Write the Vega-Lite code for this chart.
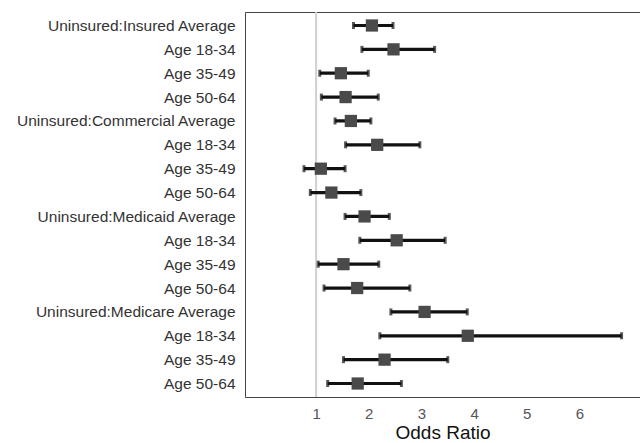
{
  "$schema": "https://vega.github.io/schema/vega-lite/v6.json",
  "width": 395,
  "height": 385,
  "autosize": "none",
  "padding": {"left": 245, "top": 12, "right": 0, "bottom": 46},
  "background": "white",
  "config": {
    "view": {"stroke": null},
    "font": "Liberation Sans",
    "axis": {"grid": false, "domainColor": "#444444", "domainWidth": 1}
  },
  "data": {
    "values": [
      {"key": "a0|Uninsured:Insured Average", "or": 2.06, "lo": 1.71, "hi": 2.46},
      {"key": "a1|Age 18-34", "or": 2.47, "lo": 1.87, "hi": 3.25},
      {"key": "a2|Age 35-49", "or": 1.47, "lo": 1.07, "hi": 1.99},
      {"key": "a3|Age 50-64", "or": 1.56, "lo": 1.10, "hi": 2.18},
      {"key": "b0|Uninsured:Commercial Average", "or": 1.66, "lo": 1.36, "hi": 2.04},
      {"key": "b1|Age 18-34", "or": 2.16, "lo": 1.56, "hi": 2.97},
      {"key": "b2|Age 35-49", "or": 1.09, "lo": 0.77, "hi": 1.55},
      {"key": "b3|Age 50-64", "or": 1.29, "lo": 0.89, "hi": 1.85},
      {"key": "c0|Uninsured:Medicaid Average", "or": 1.92, "lo": 1.55, "hi": 2.39},
      {"key": "c1|Age 18-34", "or": 2.53, "lo": 1.83, "hi": 3.45},
      {"key": "c2|Age 35-49", "or": 1.52, "lo": 1.04, "hi": 2.19},
      {"key": "c3|Age 50-64", "or": 1.78, "lo": 1.15, "hi": 2.78},
      {"key": "d0|Uninsured:Medicare Average", "or": 3.06, "lo": 2.42, "hi": 3.87},
      {"key": "d1|Age 18-34", "or": 3.88, "lo": 2.21, "hi": 6.80},
      {"key": "d2|Age 35-49", "or": 2.30, "lo": 1.52, "hi": 3.50},
      {"key": "d3|Age 50-64", "or": 1.79, "lo": 1.22, "hi": 2.62}
    ]
  },
  "encoding": {
    "y": {
      "field": "key",
      "type": "nominal",
      "sort": null,
      "scale": {"type": "point", "padding": 0.565},
      "axis": {
        "title": null,
        "ticks": false,
        "domain": true,
        "labelPadding": 10,
        "labelLimit": 300,
        "labelFontSize": 15.5,
        "labelColor": "#333333",
        "labelExpr": "split(datum.value, '|')[1]"
      }
    }
  },
  "layer": [
    {
      "data": {"values": [{"ref": 1}]},
      "mark": {"type": "rule", "color": "#d0d0d0", "strokeWidth": 2},
      "encoding": {
        "y": null,
        "x": {
          "field": "ref",
          "type": "quantitative",
          "scale": {"domain": [-0.35, 7.15], "nice": false, "zero": false},
          "axis": {"orient": "top", "labels": false, "ticks": false, "title": null, "domain": true}
        }
      }
    },
    {
      "mark": {"type": "rule", "color": "#111111", "strokeWidth": 3.2},
      "encoding": {
        "x": {
          "field": "lo",
          "type": "quantitative",
          "axis": {
            "orient": "bottom",
            "values": [1, 2, 3, 4, 5, 6],
            "ticks": false,
            "labelPadding": 9,
            "labelFontSize": 15,
            "labelColor": "#555555",
            "title": "Odds Ratio",
            "titleFontSize": 19,
            "titleFontWeight": "normal",
            "titleColor": "#111111",
            "titlePadding": 2
          }
        },
        "x2": {"field": "hi"}
      }
    },
    {
      "mark": {"type": "tick", "color": "#111111", "thickness": 3, "size": 7, "orient": "vertical"},
      "encoding": {"x": {"field": "lo", "type": "quantitative", "axis": null}}
    },
    {
      "mark": {"type": "tick", "color": "#111111", "thickness": 3, "size": 7, "orient": "vertical"},
      "encoding": {"x": {"field": "hi", "type": "quantitative", "axis": null}}
    },
    {
      "mark": {"type": "square", "color": "#4a4a4a", "opacity": 1, "size": 150, "filled": true},
      "encoding": {"x": {"field": "or", "type": "quantitative", "axis": null}}
    }
  ],
  "resolve": {"axis": {"x": "independent"}}
}
